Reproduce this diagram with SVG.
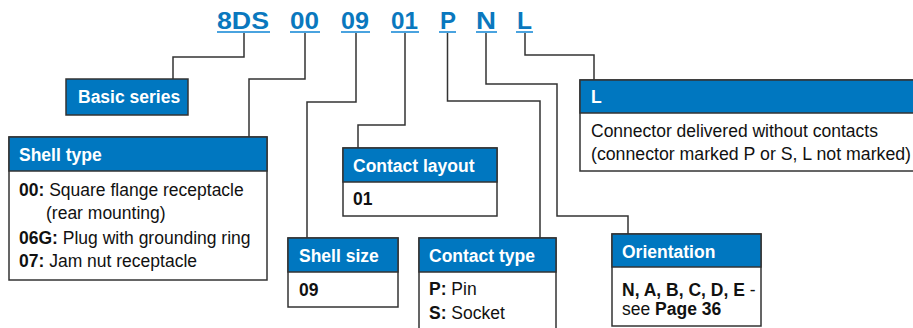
<svg xmlns="http://www.w3.org/2000/svg" width="913" height="328" viewBox="0 0 913 328">
<style>
.code{font-family:"Liberation Sans",Arial,sans-serif;font-weight:bold;font-size:23px;fill:#0A78BE}
.ul{stroke:#4AA3DF;stroke-width:2}
.conn{fill:none;stroke:#333;stroke-width:1.5}
.box{fill:#fff;stroke:#333;stroke-width:1.5}
.hdr{fill:#0077C0;stroke:#333;stroke-width:1.5}
.ht{font-family:"Liberation Sans",Arial,sans-serif;font-weight:bold;font-size:17.5px;fill:#fff}
.bt{font-family:"Liberation Sans",Arial,sans-serif;font-size:17.5px;fill:#111}
.b{font-weight:bold}
</style>
<g id="codes">
<text class="code" x="217" y="28.5" textLength="52" lengthAdjust="spacingAndGlyphs">8DS</text>
<text class="code" x="290" y="28.5" textLength="29" lengthAdjust="spacingAndGlyphs">00</text>
<text class="code" x="341" y="28.5" textLength="28" lengthAdjust="spacingAndGlyphs">09</text>
<text class="code" x="391" y="28.5" textLength="27" lengthAdjust="spacingAndGlyphs">01</text>
<text class="code" x="440" y="28.5" textLength="16" lengthAdjust="spacingAndGlyphs">P</text>
<text class="code" x="476" y="28.5" textLength="20" lengthAdjust="spacingAndGlyphs">N</text>
<text class="code" x="517" y="28.5" textLength="15" lengthAdjust="spacingAndGlyphs">L</text>
<line class="ul" x1="217" y1="32" x2="270" y2="32"/>
<line class="ul" x1="290" y1="32" x2="320" y2="32"/>
<line class="ul" x1="341" y1="32" x2="370" y2="32"/>
<line class="ul" x1="391" y1="32" x2="419" y2="32"/>
<line class="ul" x1="439" y1="32" x2="456" y2="32"/>
<line class="ul" x1="476" y1="32" x2="497" y2="32"/>
<line class="ul" x1="516" y1="32" x2="533" y2="32"/>
</g>
<g id="connectors">
<path class="conn" d="M244,33 V57 H173 V79"/>
<path class="conn" d="M305,33 V79 H249 V137"/>
<path class="conn" d="M356,33 V102 H307 V238"/>
<path class="conn" d="M405,33 V125 H358 V148"/>
<path class="conn" d="M447.5,33 V101 H540 V238"/>
<path class="conn" d="M486,33 V84 H557 V216 H628 V234"/>
<path class="conn" d="M525,33 V55 H594 V80"/>
</g>
<g id="basic-series">
<rect class="hdr" x="66" y="79" width="122" height="36"/>
<text class="ht" x="78" y="103">Basic series</text>
</g>
<g id="shell-type">
<rect class="box" x="9" y="137" width="258" height="143"/>
<rect class="hdr" x="9" y="137" width="258" height="34"/>
<text class="ht" x="19" y="161">Shell type</text>
<text class="bt" x="19" y="196"><tspan class="b">00:</tspan> Square flange receptacle</text>
<text class="bt" x="46" y="219">(rear mounting)</text>
<text class="bt" x="19" y="244"><tspan class="b">06G:</tspan> Plug with grounding ring</text>
<text class="bt" x="19" y="267"><tspan class="b">07:</tspan> Jam nut receptacle</text>
</g>
<g id="shell-size">
<rect class="box" x="288" y="238" width="110" height="69"/>
<rect class="hdr" x="288" y="238" width="110" height="34"/>
<text class="ht" x="299" y="262">Shell size</text>
<text class="bt b" x="299" y="296">09</text>
</g>
<g id="contact-layout">
<rect class="box" x="343" y="148" width="154" height="68"/>
<rect class="hdr" x="343" y="148" width="154" height="34"/>
<text class="ht" x="353" y="172">Contact layout</text>
<text class="bt b" x="353" y="205">01</text>
</g>
<g id="contact-type">
<rect class="box" x="419" y="238" width="137" height="100"/>
<rect class="hdr" x="419" y="238" width="137" height="34"/>
<text class="ht" x="429" y="262">Contact type</text>
<text class="bt" x="429" y="295"><tspan class="b">P:</tspan> Pin</text>
<text class="bt" x="429" y="319"><tspan class="b">S:</tspan> Socket</text>
</g>
<g id="orientation">
<rect class="box" x="612" y="234" width="149" height="92"/>
<rect class="hdr" x="612" y="234" width="149" height="33"/>
<text class="ht" x="622" y="258">Orientation</text>
<text class="bt" x="622" y="296"><tspan class="b">N, A, B, C, D, E</tspan> -</text>
<text class="bt" x="622" y="315">see <tspan class="b">Page 36</tspan></text>
</g>
<g id="l-option">
<rect class="box" x="580" y="80" width="340" height="91"/>
<rect class="hdr" x="580" y="80" width="340" height="33"/>
<text class="ht" x="591" y="103">L</text>
<text class="bt" x="591" y="137">Connector delivered without contacts</text>
<text class="bt" x="591" y="160" textLength="320" lengthAdjust="spacingAndGlyphs">(connector marked P or S, L not marked)</text>
</g>
</svg>
